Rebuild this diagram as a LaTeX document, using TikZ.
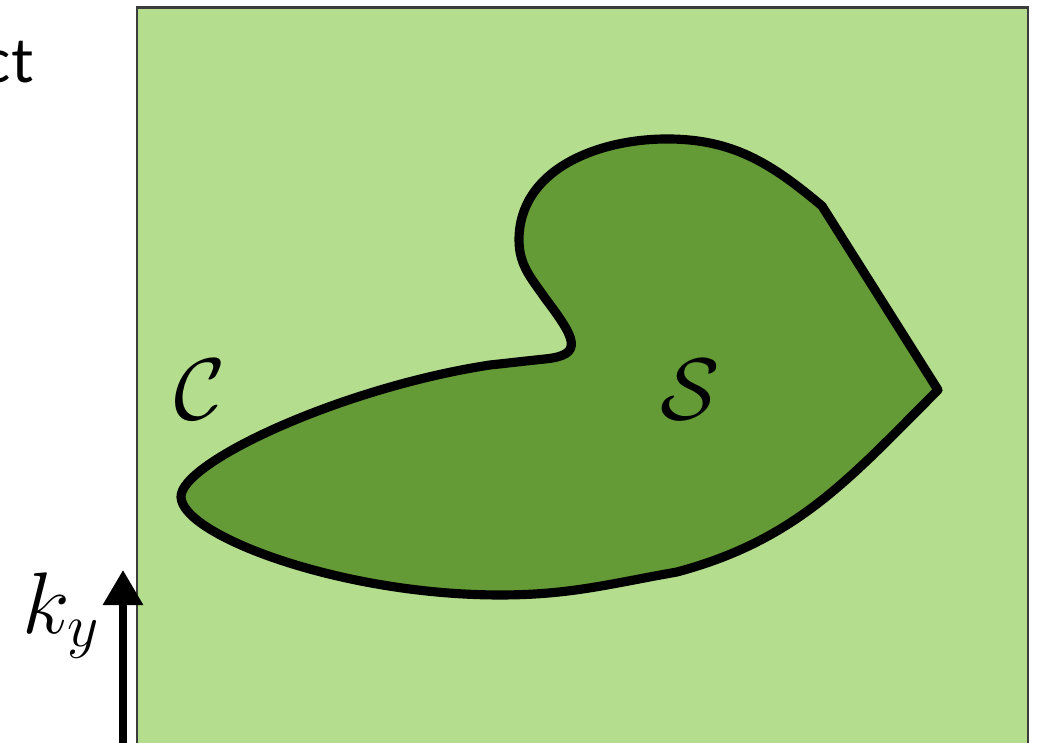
\documentclass[tikz,border=0pt]{standalone}
\usepackage{fontspec}
\usepackage{tikz}
\usetikzlibrary{arrows.meta,positioning}
\newfontfamily\cutfont{Lato}
\definecolor{zonelight}{RGB}{180,222,142}
\definecolor{zonedark}{RGB}{100,155,54}
\definecolor{framegray}{RGB}{60,60,60}

\begin{document}
\begin{tikzpicture}[
 zone/.style={draw=framegray, line width=0.6pt, fill=zonelight},
 blob/.style={draw=black, line width=2.6pt, fill=zonedark, line join=round},
 axis/.style={-{Triangle[width=11pt,length=10pt]}, line width=2.2pt},
 mathlabel/.style={inner sep=0pt, font=\fontsize{24}{28}\selectfont},
 cuttext/.style={inner sep=0pt, font=\cutfont\fontsize{17.5}{20}\selectfont}
]

% Canvas
\useasboundingbox (0,0) rectangle (10.42,7.43);
\clip (0,0) rectangle (10.42,7.43);

% Zone
\draw[zone] (1.37,-0.2) rectangle (10.28,7.355);

% Region S
\draw[blob] (9.38,3.53) -- (8.22,5.37)
 to[out=140,in=0] (6.67,6.04)
 to[out=180,in=90] (5.19,5.03)
 to[out=-90,in=125] (5.45,4.45)
 .. controls (5.75,4.05) and (5.85,3.88) .. (5.45,3.84)
 to[out=186,in=6] (4.9,3.78)
 .. controls (3.4,3.55) and (1.80,2.80) .. (1.81,2.46)
 .. controls (1.82,2.08) and (3.4,1.48) .. (5.0,1.48)
 to[out=0,in=190] (6.77,1.71)
 to[out=15,in=-135] cycle;

% Labels
\node[mathlabel] (lblC) at (2.00,3.53) {$\mathcal{C}$};
\node[mathlabel] (lblS) at (6.90,3.53) {$\mathcal{S}$};

% Axis
\coordinate (ky_base) at (1.23,-0.2);
\coordinate (ky_tip) at (1.23,1.73);
\draw[axis] (ky_base) -- (ky_tip);
\node[mathlabel, below left=0.02cm and 0.22cm of ky_tip] (lblky) {$k_y$};

% Cut text
\node[cuttext, anchor=base east] (cut) at (0.34,6.60) {ct};

\end{tikzpicture}
\end{document}
